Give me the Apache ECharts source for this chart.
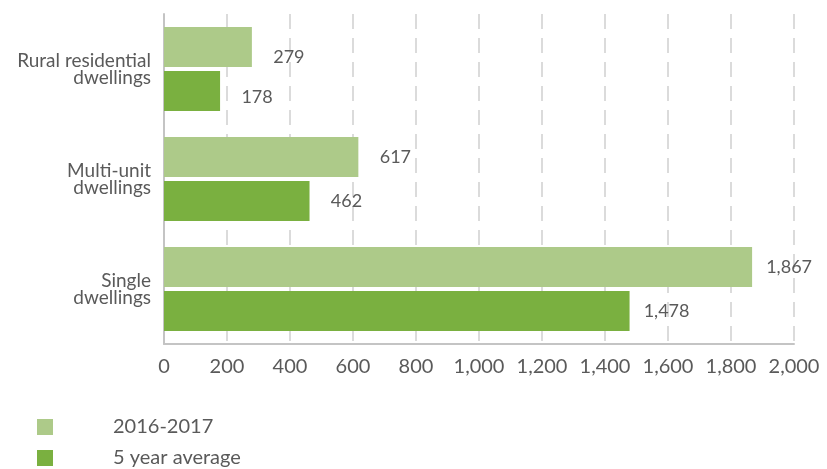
<!DOCTYPE html>
<html>
<head>
<meta charset="utf-8">
<script src="https://cdn.jsdelivr.net/npm/echarts@6/dist/echarts.min.js"></script>
<style>
  html, body { margin: 0; padding: 0; background: #fff; }
  #chart { width: 827px; height: 469px; }
</style>
</head>
<body>
<div id="chart"></div>
<script>
// Dwelling types, listed top to bottom
const categories = ['Rural residential\ndwellings', 'Multi-unit\ndwellings', 'Single\ndwellings'];
const seriesNames = ['2016-2017', '5 year average'];
const current = [279, 617, 1867];
const fiveYearAvg = [178, 462, 1478];
const xTicks = [0, 200, 400, 600, 800, 1000, 1200, 1400, 1600, 1800, 2000];

const LIGHT = '#adca89';
const DARK = '#7ab040';
const TEXT = '#5a5a5a';
const FONT = 'Lato, "Open Sans", sans-serif';

const fmt = v => Number(v).toLocaleString('en-US');

function barSeries(name, values, color) {
  return {
    name: name,
    type: 'bar',
    barWidth: 40,
    barGap: '10%',
    itemStyle: { color: color },
    data: values.map((v, i) => i === 0
      ? { value: v, label: { offset: [0, name === seriesNames[0] ? 10 : 6] } }
      : v),
    label: {
      show: true,
      position: 'right',
      distance: 37,
      align: 'center',
      color: TEXT,
      fontFamily: FONT,
      fontSize: 18,
      formatter: p => fmt(p.value)
    }
  };
}

const chart = echarts.init(document.getElementById('chart'));
chart.setOption({
  animation: false,
  backgroundColor: '#fff',
  grid: { left: 164, right: 33, top: 14, bottom: 125, containLabel: false },
  legend: {
    orient: 'vertical',
    left: 37,
    top: 417,
    height: 60,
    padding: 0,
    itemWidth: 16,
    itemHeight: 16,
    itemGap: 11,
    icon: 'rect',
    textStyle: { color: TEXT, fontFamily: FONT, fontSize: 20, lineHeight: 16, padding: [0, 0, 0, 55] },
    data: seriesNames
  },
  xAxis: {
    type: 'value',
    min: xTicks[0],
    max: xTicks[xTicks.length - 1],
    interval: xTicks[1] - xTicks[0],
    axisLine: { show: true, lineStyle: { color: '#c4c4c4', width: 2 } },
    axisTick: { show: false },
    axisLabel: { color: TEXT, fontFamily: FONT, fontSize: 20, margin: 13, formatter: v => fmt(v) },
    splitLine: { show: true, lineStyle: { color: '#cfcfcf', width: 1.5, type: [15, 9], dashOffset: 0 } }
  },
  yAxis: {
    type: 'category',
    inverse: true,
    data: categories,
    axisLine: { show: true, lineStyle: { color: '#c4c4c4', width: 2 } },
    axisTick: { show: false },
    axisLabel: { color: TEXT, fontFamily: FONT, fontSize: 19, lineHeight: 17, margin: 13, align: 'right' }
  },
  series: [
    Object.assign(barSeries(seriesNames[0], current, LIGHT), { barCategoryGap: '23.6%' }),
    barSeries(seriesNames[1], fiveYearAvg, DARK)
  ]
});
</script>
</body>
</html>
